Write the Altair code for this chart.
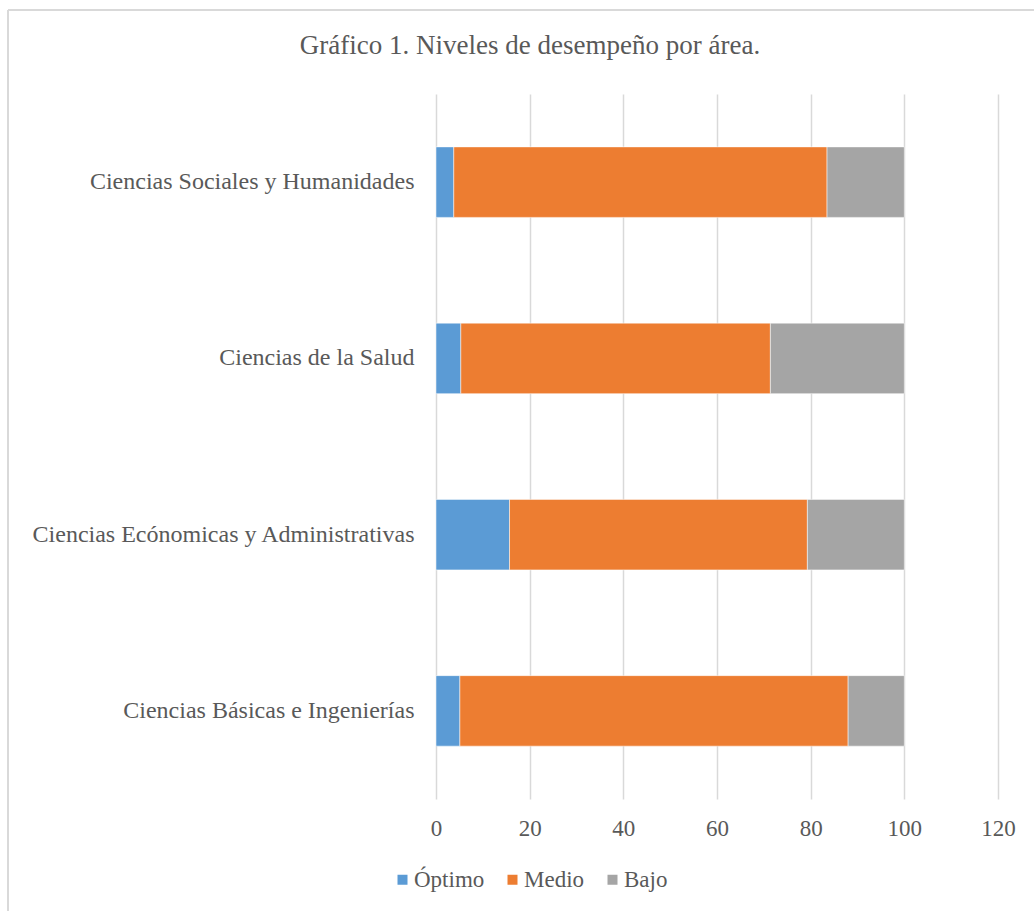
import altair as alt
import pandas as pd

# Performance levels (%) by academic area
areas = [
    "Ciencias Sociales y Humanidades",
    "Ciencias de la Salud",
    "Ciencias Ecónomicas y Administrativas",
    "Ciencias Básicas e Ingenierías",
]
optimo = [3.8, 5.3, 15.7, 5.1]
medio = [79.7, 66.1, 63.6, 82.9]
bajo = [16.5, 28.6, 20.7, 12.0]

levels = ["Óptimo", "Medio", "Bajo"]
level_colors = ["#5B9BD5", "#ED7D31", "#A5A5A5"]
x_ticks = [0, 20, 40, 60, 80, 100, 120]

rows = []
for i, area in enumerate(areas):
    for j, (lvl, vals) in enumerate(zip(levels, [optimo, medio, bajo])):
        rows.append({"area": area, "nivel": lvl, "orden": j, "valor": vals[i]})
df = pd.DataFrame(rows)

FONT = "Liberation Serif"
TEXT_COLOR = "#595959"

bars = alt.Chart(df).mark_bar(stroke="#ffffff", strokeWidth=0.5).encode(
    x=alt.X(
        "valor:Q",
        stack="zero",
        scale=alt.Scale(domain=[0, 120], nice=False),
        axis=alt.Axis(
            values=x_ticks,
            title=None,
            grid=True,
            gridColor="#d9d9d9",
            gridWidth=1.5,
            domain=False,
            ticks=False,
            tickSize=0,
            labelFlush=False,
            labelPadding=18,
            labelFont=FONT,
            labelFontSize=23,
            labelColor=TEXT_COLOR,
        ),
    ),
    y=alt.Y(
        "area:N",
        sort=areas,
        scale=alt.Scale(paddingInner=0.6, paddingOuter=0.3),
        axis=alt.Axis(
            title=None,
            domain=False,
            ticks=False,
            tickSize=0,
            labelPadding=22,
            labelLimit=600,
            labelFont=FONT,
            labelFontSize=24,
            labelColor=TEXT_COLOR,
        ),
    ),
    color=alt.Color(
        "nivel:N",
        sort=levels,
        scale=alt.Scale(domain=levels, range=level_colors),
        legend=alt.Legend(
            title=None,
            orient="none",
            direction="horizontal",
            legendX=-45,
            legendY=774,
            padding=0,
            symbolType="square",
            symbolSize=100,
            symbolStrokeWidth=0,
            labelOffset=0,
            columnPadding=16,
            labelFont=FONT,
            labelFontSize=23,
            labelColor=TEXT_COLOR,
        ),
    ),
    order=alt.Order("orden:Q"),
)

# Light outer frame around the figure
frame_left = alt.Chart(df).mark_rule(color="#d9d9d9", strokeWidth=1.5).encode(
    x=alt.value(-428), y=alt.value(-84), y2=alt.value(830)
)
frame_top = alt.Chart(df).mark_rule(color="#d9d9d9", strokeWidth=1.5).encode(
    x=alt.value(-428), x2=alt.value(620), y=alt.value(-84)
)

chart = (
    alt.layer(frame_left, frame_top, bars)
    .properties(
        width=562,
        height=705,
        autosize=alt.AutoSizeParams(type="none"),
        padding={"left": 436, "top": 94, "right": 36, "bottom": 112},
        background="#ffffff",
        title=alt.TitleParams(
            "Gráfico 1. Niveles de desempeño por área.",
            anchor="middle",
            dx=-187,
            offset=-51,
            font=FONT,
            fontSize=27,
            fontWeight="normal",
            color=TEXT_COLOR,
        ),
    )
    .configure(font=FONT)
    .configure_axis(labelFont=FONT)
    .configure_legend(labelFont=FONT)
    .configure_title(font=FONT)
    .configure_view(stroke=None)
)

chart.save("out.html", embed_options={"renderer": "svg", "actions": False})
